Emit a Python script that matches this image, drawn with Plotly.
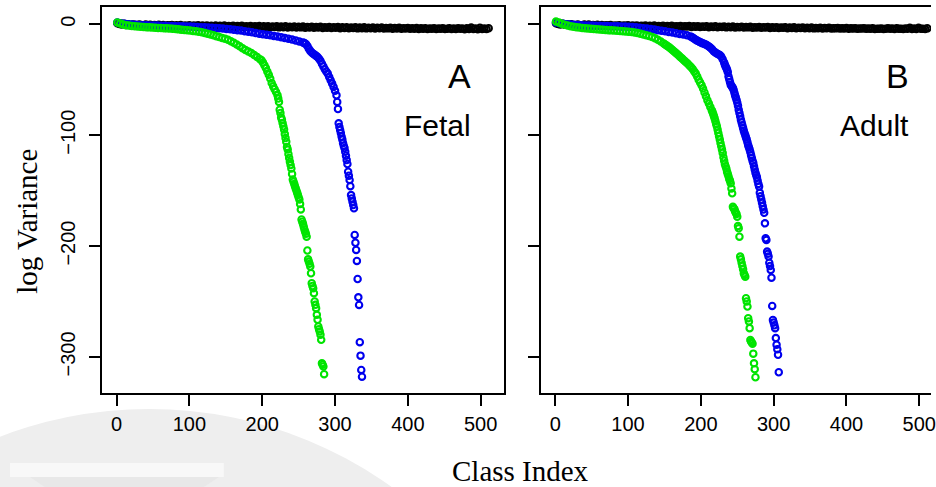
import plotly.graph_objects as go

# ---------------------------------------------------------------
# Sorted log variances per class (index 1..512), fetal and adult.
# Dense runs are stored every few indices, sparse tails per index.
# ---------------------------------------------------------------

# Fetal, black series (index 1..511 every 3)
fetal_black = [
    0.9, 0.2, -0.2, 0.4, -0.6, 0.1, -0.8, -0.1, -0.5, -1.0, -0.2, -0.7, -1.1, -0.3, -0.9, -0.4, -1.2, -0.6, -1.0,
    -0.5, -1.3, -0.7, -1.5, -0.8, -1.2, -0.6, -1.6, -0.9, -1.4, -0.7, -1.7, -1.0, -1.5, -0.8, -1.8, -1.1, -1.6, -0.9,
    -1.9, -1.2, -1.7, -1.0, -2.0, -1.3, -1.8, -1.1, -2.1, -1.4, -1.9, -1.2, -2.2, -1.5, -2.0, -1.3, -2.3, -1.6, -2.1,
    -1.4, -2.4, -1.7, -2.2, -1.5, -2.5, -1.8, -2.3, -1.6, -2.6, -1.9, -2.4, -1.7, -2.7, -2.0, -2.5, -1.8, -2.8, -2.1,
    -2.6, -1.9, -2.9, -2.2, -2.7, -2.0, -3.0, -2.3, -2.8, -2.1, -3.1, -2.4, -2.9, -2.2, -3.2, -2.5, -3.0, -2.3, -3.3,
    -2.6, -3.1, -2.4, -3.4, -2.7, -3.2, -2.5, -3.5, -2.8, -3.3, -2.6, -3.6, -2.9, -3.4, -2.7, -3.7, -3.0, -3.5, -2.8,
    -3.7, -3.1, -3.6, -2.9, -3.8, -3.2, -3.6, -3.0, -3.9, -3.3, -3.7, -3.1, -4.0, -3.4, -3.8, -3.2, -4.0, -3.5, -3.9,
    -3.3, -4.1, -3.6, -4.0, -3.4, -4.2, -3.7, -4.0, -3.5, -4.2, -3.8, -4.1, -3.6, -4.3, -3.9, -4.1, -3.7, -4.3, -4.0,
    -3.5, -4.2, -3.8, -4.3, -3.6, -4.1, -3.9, -4.4, -3.7, -4.2, -3.0, -4.3, -3.8, -4.4, -3.1, -4.2, -3.9, -4.3, -3.6,
]

# Fetal, blue series
fetal_blue_head = [  # index 1..256 every 5
    1.5, 0.9, 0.4, 0.0, -0.3, -0.5, -0.7, -0.8, -0.9, -1.0, -1.1, -1.2, -1.3,
    -1.4, -1.5, -1.6, -1.7, -1.8, -1.9, -2.0, -2.1, -2.2, -2.4, -2.6, -2.8, -3.0,
    -3.2, -3.4, -3.6, -3.9, -4.2, -4.5, -4.9, -5.3, -5.7, -6.2, -6.7, -7.3, -7.9,
    -8.5, -9.0, -9.5, -10.0, -10.5, -11.0, -11.6, -12.3, -13.0, -13.8, -14.6, -15.5, -16.4,
]
fetal_blue_mid = [  # index 258..302 every 2
    -17.0, -17.8, -19.5, -22.0, -24.0, -25.5, -26.5, -27.5, -28.5, -29.5, -31.0, -33.0,
    -35.5, -38.0, -40.5, -42.5, -44.5, -47.5, -50.5, -53.5, -56.5, -60.0, -64.0,
]
fetal_blue_tail = [  # index 303..337
    -70.0, -76.4, -89.3, -92.6, -95.3, -98.0, -101.3, -104.0, -107.0, -109.5, -111.6, -115.0,
    -118.5, -122.4, -126.0, -133.0, -136.5, -140.4, -146.0, -154.0, -157.0, -160.0, -163.0,
    -166.0, -190.0, -197.0, -203.5, -213.4, -229.7, -246.2, -253.1, -286.7, -298.8, -311.7, -317.8,
]

# Fetal, green series
fetal_green_head = [  # index 1..197 every 4
    1.6, 0.8, -0.2, -0.8, -1.2, -1.5, -1.8, -2.0, -2.2, -2.4, -2.6, -2.8, -3.0,
    -3.1, -3.3, -3.4, -3.6, -3.7, -3.9, -4.1, -4.3, -4.6, -4.9, -5.1, -5.4, -5.7,
    -6.0, -6.4, -6.8, -7.3, -7.9, -8.5, -9.2, -9.9, -10.7, -11.5, -12.3, -13.0,
    -14.0, -15.3, -16.7, -18.2, -19.9, -21.6, -23.2, -24.6, -26.0, -27.8, -29.6, -31.5,
]
fetal_green_mid = [  # index 199..221 every 2
    -32.5, -34.5, -37.0, -39.5, -42.5, -45.5, -49.0, -53.0, -56.0, -58.5, -61.0, -64.0,
]
fetal_green_tail = [  # index 222..285
    -67.0, -70.0, -77.0, -80.0, -84.0, -86.0, -89.0, -92.0, -95.0, -99.0, -102.6, -106.0,
    -110.6, -113.0, -117.0, -120.5, -124.0, -127.0, -130.0, -135.0,
    -140.0, -142.0, -144.0, -146.0, -148.0, -150.0, -152.0, -154.0, -156.0, -158.0, -162.0,
    -167.0, -176.0, -178.0, -180.0, -182.5, -185.0, -187.0, -189.0, -191.5, -204.0, -212.0,
    -214.0, -216.0, -218.5, -224.5, -233.5, -236.0, -238.0, -242.5, -250.0, -253.0, -256.0,
    -262.0, -266.5, -272.5, -275.0, -277.0, -280.0, -284.5, -305.6, -307.0, -308.6, -315.5,
]

# Adult, black series (index 1..511 every 3)
adult_black = [
    1.0, 0.3, -0.3, 0.5, -0.5, 0.0, -0.7, 0.0, -0.6, -0.9, -0.1, -0.8, -1.0, -0.2, -1.0, -0.3, -1.1, -0.7, -0.9,
    -0.4, -1.4, -0.6, -1.4, -0.9, -1.1, -0.7, -1.5, -1.0, -1.3, -0.8, -1.6, -1.1, -1.4, -0.9, -1.7, -1.2, -1.5, -1.0,
    -1.8, -1.3, -1.6, -1.1, -1.9, -1.4, -1.7, -1.2, -2.0, -1.5, -1.8, -1.3, -2.1, -1.6, -1.9, -1.4, -2.2, -1.7, -2.0,
    -1.5, -2.3, -1.8, -2.1, -1.6, -2.4, -1.9, -2.2, -1.7, -2.5, -2.0, -2.3, -1.8, -2.6, -2.1, -2.4, -1.9, -2.7, -2.2,
    -2.5, -2.0, -2.8, -2.3, -2.6, -2.1, -2.9, -2.4, -2.7, -2.2, -3.0, -2.5, -2.8, -2.3, -3.1, -2.6, -2.9, -2.4, -3.2,
    -2.7, -3.0, -2.5, -3.3, -2.8, -3.1, -2.6, -3.4, -2.9, -3.2, -2.7, -3.5, -3.0, -3.3, -2.8, -3.6, -3.1, -3.4, -2.9,
    -3.6, -3.2, -3.5, -3.0, -3.7, -3.3, -3.5, -3.1, -3.8, -3.4, -3.6, -3.2, -3.9, -3.5, -3.7, -3.3, -3.9, -3.6, -3.8,
    -3.4, -4.0, -3.7, -3.9, -3.5, -4.1, -3.8, -3.9, -3.6, -4.1, -3.9, -4.0, -3.7, -4.2, -4.0, -4.0, -3.8, -4.2, -4.1,
    -3.6, -4.1, -3.9, -4.2, -3.7, -4.0, -4.0, -4.3, -3.8, -4.1, -3.1, -4.2, -3.9, -4.3, -3.2, -4.1, -4.0, -4.2, -3.7,
]

# Adult, blue series
adult_blue_head = [  # index 1..186 every 5
    1.5, 0.9, 0.4, 0.0, -0.3, -0.5, -0.7, -0.9, -1.0, -1.1, -1.2, -1.3, -1.4,
    -1.5, -1.6, -1.7, -1.8, -1.9, -2.0, -2.1, -2.3, -2.5, -2.8, -3.1, -3.5, -3.9,
    -4.3, -4.8, -5.3, -5.8, -6.3, -6.9, -7.5, -8.1, -8.7, -9.3, -10.0, -11.0,
]
adult_blue_mid = [  # index 188..232 every 2
    -11.8, -12.6, -13.5, -14.3, -15.0, -15.7, -16.4, -17.0, -17.6, -18.1, -18.7, -19.5,
    -20.5, -21.6, -23.0, -24.5, -25.5, -26.3, -27.0, -27.8, -29.0, -31.5, -34.5,
]
adult_blue_tail = [  # index 233..307
    -36.5, -38.0, -39.5, -41.0, -43.0, -47.0, -49.5, -52.0, -54.5, -55.5, -56.5, -57.5,
    -59.0, -61.5, -64.0, -66.0, -68.0, -70.5, -73.5, -77.0, -80.0, -83.0, -86.0, -88.5,
    -91.0, -93.5, -96.0, -98.0, -100.0, -102.0, -104.0, -106.5, -109.0, -111.0, -113.0,
    -115.5, -118.0, -120.5, -123.0, -125.0, -128.0, -131.0, -134.0, -136.0, -138.0, -141.0,
    -144.0, -146.4, -152.0, -155.0, -158.0, -161.0, -164.0, -167.0, -170.0, -179.5, -193.0,
    -194.5, -205.0, -207.0, -209.5, -215.0, -218.0, -221.5, -228.5, -254.0, -266.6, -269.0,
    -271.5, -274.0, -283.0, -289.0, -293.0, -298.0, -313.8,
]

# Adult, green series
adult_green_head = [  # index 1..149 every 4
    2.4, 1.5, 0.5, -0.4, -1.1, -1.7, -2.2, -2.6, -3.0, -3.3, -3.6, -3.9, -4.1,
    -4.3, -4.5, -4.7, -4.9, -5.1, -5.3, -5.5, -5.7, -5.9, -6.1, -6.3, -6.5, -6.7,
    -7.0, -7.4, -7.9, -8.5, -9.2, -9.9, -10.6, -11.5, -12.6, -14.0, -15.6, -17.3,
]
adult_green_mid = [  # index 151..215 every 2
    -18.2, -19.1, -20.0, -21.0, -22.1, -23.2, -24.3, -25.4, -26.6, -27.8, -29.0,
    -30.2, -31.4, -32.6, -33.8, -35.0, -36.3, -37.6, -39.0, -40.5, -42.5, -44.5,
    -47.0, -50.0, -52.5, -55.0, -58.0, -61.5, -65.0, -68.5, -71.5, -74.5, -77.5,
]
adult_green_tail = [  # index 216..276
    -79.0, -81.0, -83.0, -85.0, -87.5, -90.0, -92.0, -95.0, -98.0, -101.0, -104.0, -107.0,
    -110.0, -113.0, -116.0, -120.0, -123.0, -126.0, -128.0, -130.0, -133.0, -135.0, -137.0,
    -139.5, -141.0, -143.4, -148.0, -152.4, -164.5, -166.0, -166.5, -168.5, -170.0, -171.0,
    -173.5, -182.0, -184.0, -191.5, -209.5, -212.0, -215.0, -218.0, -221.0, -224.5, -226.0,
    -227.6, -247.0, -250.0, -254.6, -265.0, -268.0, -274.0, -284.7, -286.0, -287.0, -288.0,
    -297.0, -305.7, -311.0, -318.3,
]

x_ticks = [0, 100, 200, 300, 400, 500]
y_ticks = [0, -100, -200, -300]
panel_letters = ["A", "B"]
panel_names = ["Fetal", "Adult"]

BLACK, BLUE, GREEN = "#000000", "#0000EE", "#00E400"


def indices(start, step, values):
    return [start + step * i for i in range(len(values))]


def segments(parts):
    xs, ys = [], []
    for start, step, vals in parts:
        xs += indices(start, step, vals)
        ys += list(vals)
    return xs, ys


fetal = {
    BLACK: segments([(1, 3, fetal_black)]),
    BLUE: segments([(1, 5, fetal_blue_head), (258, 2, fetal_blue_mid), (303, 1, fetal_blue_tail)]),
    GREEN: segments([(1, 4, fetal_green_head), (199, 2, fetal_green_mid), (222, 1, fetal_green_tail)]),
}
adult = {
    BLACK: segments([(1, 3, adult_black)]),
    BLUE: segments([(1, 5, adult_blue_head), (188, 2, adult_blue_mid), (233, 1, adult_blue_tail)]),
    GREEN: segments([(1, 4, adult_green_head), (151, 2, adult_green_mid), (216, 1, adult_green_tail)]),
}

fig = go.Figure()

for panel, (xa, ya) in ((fetal, ("x", "y")), (adult, ("x2", "y2"))):
    for color in (BLACK, BLUE, GREEN):
        xs, ys = panel[color]
        fig.add_trace(go.Scatter(
            x=xs, y=ys, xaxis=xa, yaxis=ya, mode="markers",
            marker=dict(symbol="circle-open", size=6.4, color=color,
                        line=dict(width=2.1, color=color)),
            hoverinfo="skip", showlegend=False,
        ))

W, H = 936, 487
sans = "Liberation Sans, Arial, sans-serif"
serif = "Liberation Serif, Times New Roman, serif"

axis_common = dict(
    showgrid=False, zeroline=False, showline=True, linecolor="black", linewidth=2,
    ticks="outside", ticklen=11, tickwidth=1.6, tickcolor="black",
    tickfont=dict(family=sans, size=20, color="black"),
    ticklabeloverflow="allow",
)
y_range = [-332.5, 15.3]
y_dom = [1 - 393 / H, 1 - 7.3 / H]
y_text = [str(v).replace("-", "\u2212") for v in y_ticks]

fig.update_layout(
    width=W, height=H, margin=dict(l=0, r=0, t=0, b=0),
    paper_bgcolor="white", plot_bgcolor="white",
    xaxis=dict(domain=[103 / W, 507 / W], range=[-19.44, 532.44], tickvals=x_ticks,
               mirror=True, anchor="y", ticklabelstandoff=1, **axis_common),
    yaxis=dict(domain=y_dom, range=y_range, tickvals=y_ticks, ticktext=y_text,
               tickangle=-90, mirror=True, anchor="x", ticklabelstandoff=6, **axis_common),
    xaxis2=dict(domain=[544 / W, 1.0], range=[-19.44, 516.1], tickvals=x_ticks,
                mirror=True, anchor="y2", ticklabelstandoff=1, **axis_common),
    yaxis2=dict(domain=y_dom, range=y_range, tickvals=y_ticks, showticklabels=False,
                anchor="x2", **axis_common),
)

# Faint emblem in the lower-left corner of the page
cx, top, R = 150, 409, 420
fig.add_shape(type="circle", xref="paper", yref="paper", layer="below",
              x0=(cx - R) / W, x1=(cx + R) / W,
              y0=1 - (top + 2 * R) / H, y1=1 - top / H,
              fillcolor="#eeeeee", line=dict(width=0))
fig.add_shape(type="rect", xref="paper", yref="paper", layer="below",
              x0=10 / W, x1=225 / W, y0=1 - 477 / H, y1=1 - 463 / H,
              fillcolor="#f8f8f8", line=dict(width=0))
fig.add_shape(type="path", xref="paper", yref="paper", layer="below",
              path=f"M {30 / W},{1 - 477 / H} L {220 / W},{1 - 477 / H} "
                   f"L {205 / W},{1 - 487 / H} L {45 / W},{1 - 487 / H} Z",
              fillcolor="#e8e8e8", line=dict(width=0))

for letter, name, xr, yr in zip(panel_letters, panel_names, ("x", "x2"), ("y", "y2")):
    fig.add_annotation(x=489, y=-47, xref=xr, yref=yr, text=letter, showarrow=False,
                       xanchor="right", yanchor="middle",
                       font=dict(family=sans, size=34, color="black"))
    fig.add_annotation(x=489, y=-91, xref=xr, yref=yr, text=name, showarrow=False,
                       xanchor="right", yanchor="middle",
                       font=dict(family=sans, size=30, color="black"))

fig.add_annotation(x=27 / W, y=1 - 221 / H, xref="paper", yref="paper", text="log Variance",
                   textangle=-90, showarrow=False, xanchor="center", yanchor="middle",
                   font=dict(family=serif, size=29, color="black"))
fig.add_annotation(x=523 / W, y=1 - 471 / H, xref="paper", yref="paper", text="Class Index",
                   showarrow=False, xanchor="center", yanchor="middle",
                   font=dict(family=serif, size=29, color="black"))

fig.write_html("out.html")
